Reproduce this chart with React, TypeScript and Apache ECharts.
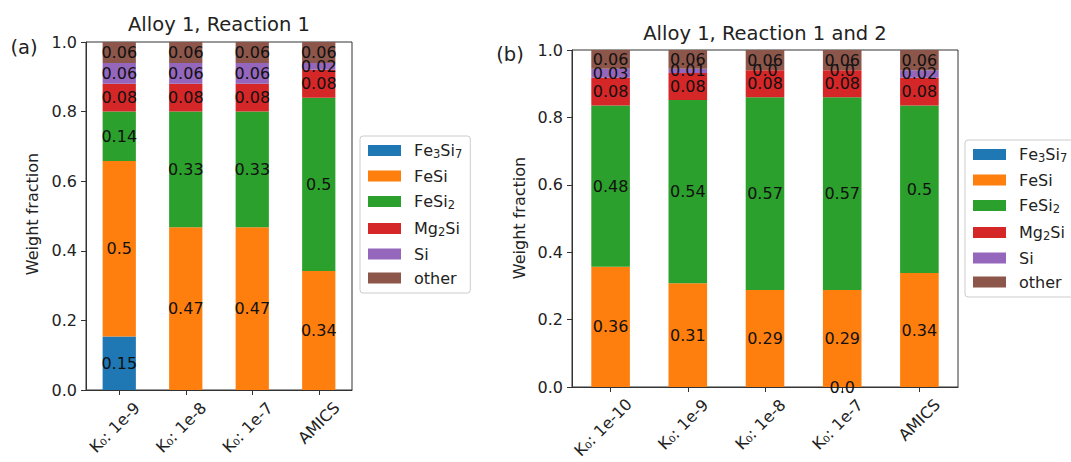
import React, { useEffect, useRef } from "react";
import * as echarts from "echarts";

const categoriesA = ["K₀: 1e-9", "K₀: 1e-8", "K₀: 1e-7", "AMICS"];
const fe3si7A = [0.154, null, null, null];
const fesiA = [0.504, 0.468, 0.468, 0.342];
const fesi2A = [0.142, 0.332, 0.332, 0.498];
const mg2siA = [0.08, 0.08, 0.08, 0.08];
const siA = [0.06, 0.06, 0.06, 0.02];
const otherA = [0.06, 0.06, 0.06, 0.06];

const categoriesB = ["K₀: 1e-10", "K₀: 1e-9", "K₀: 1e-8", "K₀: 1e-7", "AMICS"];
const fe3si7B = [null, null, null, 0, null];
const fesiB = [0.357, 0.308, 0.288, 0.288, 0.338];
const fesi2B = [0.478, 0.544, 0.572, 0.572, 0.497];
const mg2siB = [0.083, 0.08, 0.08, 0.08, 0.083];
const siB = [0.026, 0.012, 0, 0, 0.022];
const otherB = [0.056, 0.056, 0.06, 0.06, 0.06];

const phaseNames = ["Fe₃Si₇", "FeSi", "FeSi₂", "Mg₂Si", "Si", "other"];
const colors = ["#1f77b4", "#ff7f0e", "#2ca02c", "#d62728", "#9467bd", "#8c564b"];
const yTicks = [0, 0.2, 0.4, 0.6, 0.8, 1.0];

const FONT = "DejaVu Sans";
const TXT = "#222";

const SUB: Record<string, string> = { "₀": "0", "₂": "2", "₃": "3", "₇": "7" };

function richSub(name: string): string {
  let out = "";
  for (const ch of name) {
    out += SUB[ch] !== undefined ? `{s|${SUB[ch]}}` : `{n|${ch}}`;
  }
  return out;
}

function fmt(v: number): string {
  const r = Math.round(v * 100) / 100;
  return Number.isInteger(r) ? r.toFixed(1) : String(r);
}

// per-label shift so that rotated labels are centred under their tick (like matplotlib ha="center")
function labelPad(name: string) {
  const p = name === "AMICS" ? 0 : name.length >= 9 ? 21 : 13;
  return { textStyle: { align: "center", verticalAlign: "middle", padding: [p, p, 0, 0] } };
}

export default function App() {
  const ref = useRef<HTMLDivElement>(null);
  useEffect(() => {
    if (!ref.current) return;
    const chart = echarts.init(ref.current, undefined, { renderer: "svg" });

    const seriesA = [fe3si7A, fesiA, fesi2A, mg2siA, siA, otherA];
    const seriesB = [fe3si7B, fesiB, fesi2B, mg2siB, siB, otherB];

    const mkSeries = (arrs: (number | null)[][], idx: number, stack: string) =>
      arrs.map((arr, i) => ({
        type: "bar",
        name: phaseNames[i],
        stack,
        xAxisIndex: idx,
        yAxisIndex: idx,
        barWidth: "50%",
        data: arr.map((v) => (v === null ? "-" : v)),
        itemStyle: { color: colors[i] },
        label: {
          show: true,
          position: "inside",
          fontFamily: FONT,
          fontSize: 16,
          color: "#111",
          formatter: (p: any) => fmt(p.value),
        },
      }));

    const mkX = (cats: string[], gi: number) => ({
      type: "category",
      gridIndex: gi,
      data: cats.map((c) => ({ value: c, ...labelPad(c) })),
      axisLine: { show: true, lineStyle: { color: "#333" } },
      axisTick: { show: true, alignWithLabel: true, length: 5, lineStyle: { color: "#333" } },
      axisLabel: {
        rotate: 45,
        align: "center",
        verticalAlign: "middle",
        margin: 33,
        fontFamily: FONT,
        fontSize: 16,
        color: TXT,
        interval: 0,
        hideOverlap: false,
      },
    });

    const mkY = (gi: number) => ({
      type: "value",
      gridIndex: gi,
      min: yTicks[0],
      max: yTicks[yTicks.length - 1],
      interval: 0.2,
      splitLine: { show: false },
      axisLine: { show: true, lineStyle: { color: "#333" } },
      axisTick: { show: true, length: 5, lineStyle: { color: "#333" } },
      axisLabel: {
        margin: 9,
        fontFamily: FONT,
        fontSize: 16,
        color: TXT,
        formatter: (v: number) => v.toFixed(1),
      },
    });

    const mkLegend = (left: number, top: number) => ({
      orient: "vertical",
      left,
      top,
      data: phaseNames,
      icon: "rect",
      itemWidth: 33,
      itemHeight: 11,
      itemGap: 8,
      selectedMode: false,
      backgroundColor: "#fff",
      borderColor: "#ccc",
      borderWidth: 1,
      borderRadius: 3,
      padding: [5, 8, 7, 8],
      formatter: (name: string) => richSub(name),
      textStyle: {
        fontFamily: FONT,
        fontSize: 16,
        color: TXT,
        padding: [0, 0, 0, 8],
        rich: {
          n: { fontFamily: FONT, fontSize: 16, color: TXT, lineHeight: 16 },
          s: { fontFamily: FONT, fontSize: 11.5, color: TXT, lineHeight: 9, padding: [7, 0, 0, 0] },
        },
      },
    });

    chart.setOption({
      animation: false,
      backgroundColor: "#fff",
      textStyle: { fontFamily: FONT },
      grid: [
        { left: 86, top: 42, width: 266, height: 348, containLabel: false, outerBoundsMode: "none", show: true, borderColor: "#333", borderWidth: 1, backgroundColor: "transparent" },
        { left: 572, top: 50, width: 386, height: 337, containLabel: false, outerBoundsMode: "none", show: true, borderColor: "#333", borderWidth: 1, backgroundColor: "transparent" },
      ],
      xAxis: [mkX(categoriesA, 0), mkX(categoriesB, 1)],
      yAxis: [mkY(0), mkY(1)],
      legend: [mkLegend(360, 136), mkLegend(965, 140)],
      series: [...mkSeries(seriesA, 0, "a"), ...mkSeries(seriesB, 1, "b")],
      graphic: [
        { type: "text", x: 219, y: 24, style: { text: "Alloy 1, Reaction 1", fontFamily: FONT, fontSize: 19.5, fill: TXT, align: "center", verticalAlign: "middle" } },
        { type: "text", x: 765, y: 33, style: { text: "Alloy 1, Reaction 1 and 2", fontFamily: FONT, fontSize: 19.5, fill: TXT, align: "center", verticalAlign: "middle" } },
        { type: "text", x: 24, y: 47, style: { text: "(a)", fontFamily: FONT, fontSize: 19.5, fill: TXT, align: "center", verticalAlign: "middle" } },
        { type: "text", x: 510, y: 54, style: { text: "(b)", fontFamily: FONT, fontSize: 19.5, fill: TXT, align: "center", verticalAlign: "middle" } },
        { type: "text", x: 32, y: 214, rotation: Math.PI / 2, style: { text: "Weight fraction", fontFamily: FONT, fontSize: 16, fill: TXT, align: "center", verticalAlign: "middle" } },
        { type: "text", x: 519, y: 218, rotation: Math.PI / 2, style: { text: "Weight fraction", fontFamily: FONT, fontSize: 16, fill: TXT, align: "center", verticalAlign: "middle" } },
      ],
    });
    return () => chart.dispose();
  }, []);
  return <div ref={ref} style={{ position: "absolute", left: 0, top: 0, width: 1071, height: 462 }} />;
}
